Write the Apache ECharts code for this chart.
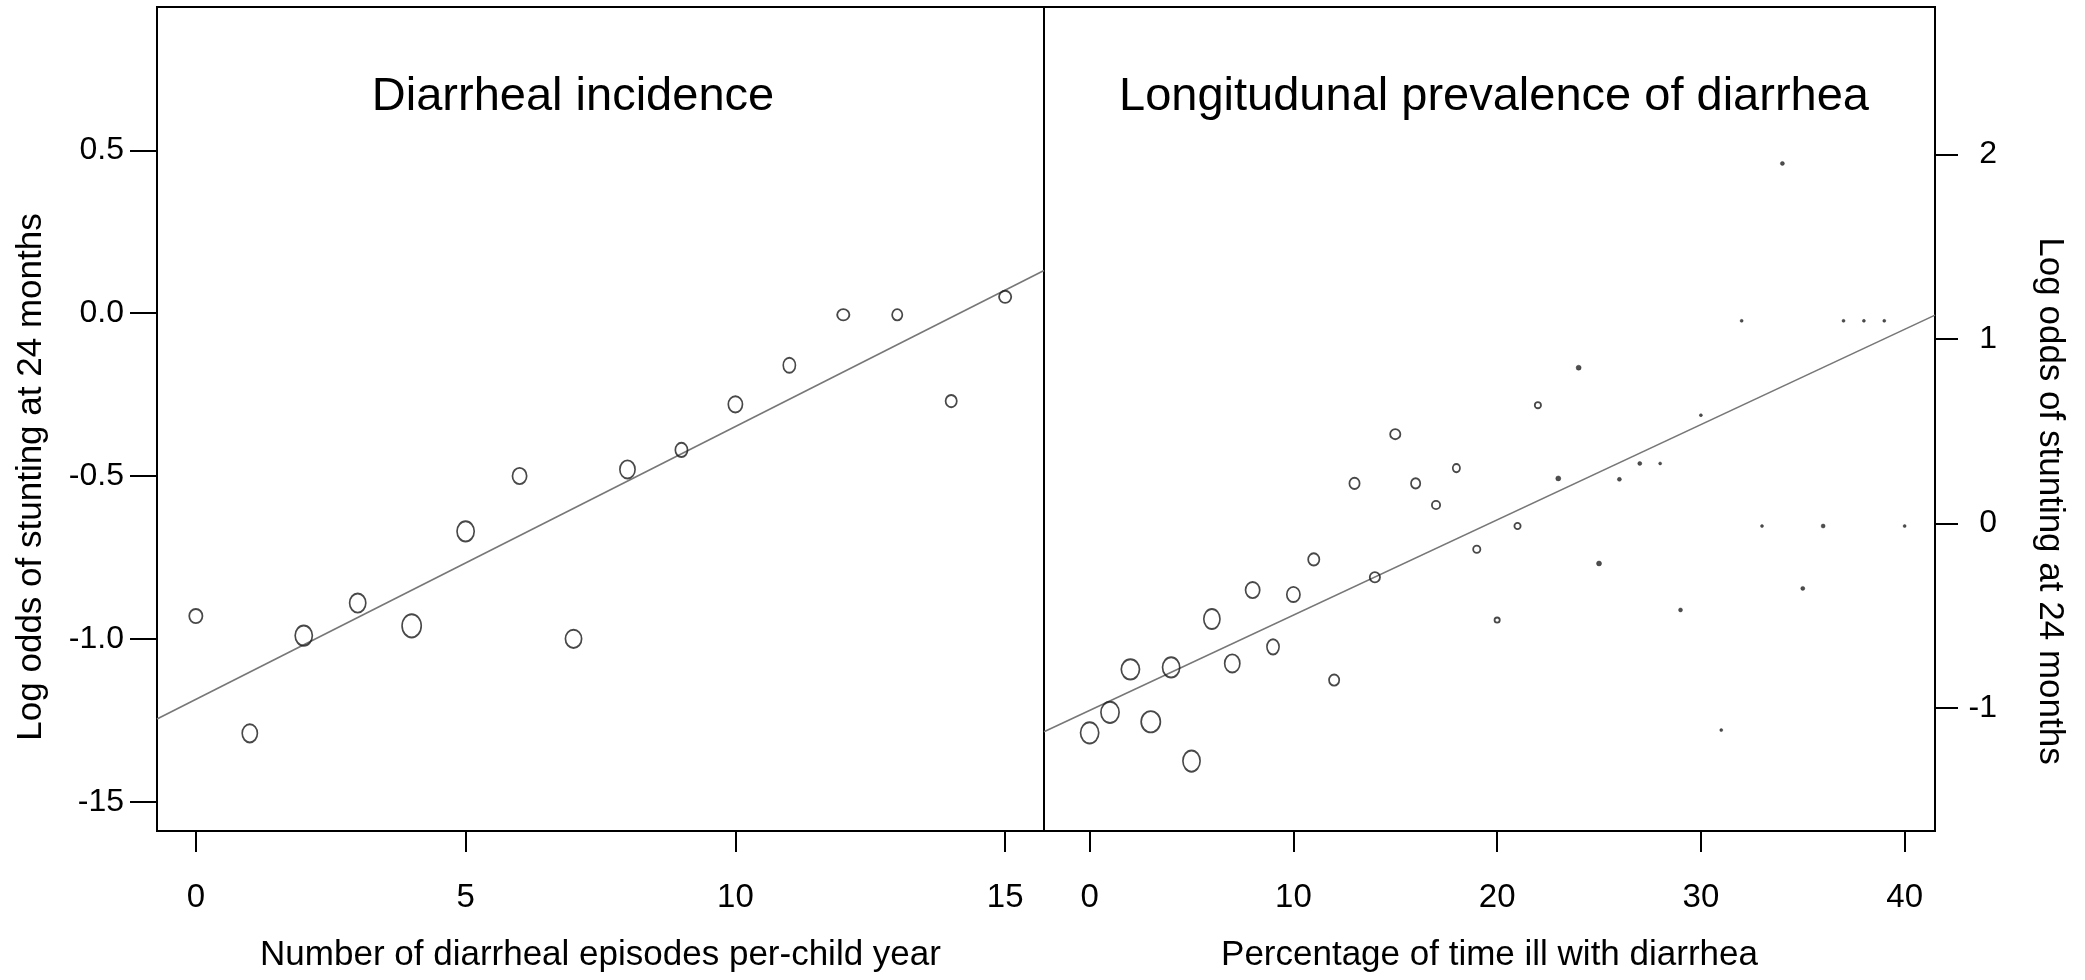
<!DOCTYPE html>
<html>
<head>
<meta charset="utf-8">
<script src="https://cdn.jsdelivr.net/npm/echarts@6/dist/echarts.min.js"></script>
<style>html,body{margin:0;padding:0;background:#fff}#c{width:2085px;height:980px}</style>
</head>
<body>
<div id="c"></div>
<script>
// ---- Left panel: diarrheal incidence ----
const leftX = [0,1,2,3,4,5,6,7,8,9,10,11,12,13,14,15];
const leftY = [-0.93,-1.29,-0.99,-0.89,-0.96,-0.67,-0.50,-1.00,-0.48,-0.42,-0.28,-0.16,-0.005,-0.005,-0.27,0.05];
const leftMarkW = [15,17,19,18,21,19,16,18,17,14,16,14,14,12,13,14];
const leftMarkH = [16,20,22,21,25,22,18,20,20,16,18,17,13,13,14,14];
const leftFit = [[-0.72,-1.246],[15.72,0.131]];
const leftXTicks = [0,5,10,15];
const leftYTicks = [-1.5,-1.0,-0.5,0.0,0.5];
const leftYTickLabels = ['-15','-1.0','-0.5','0.0','0.5'];

// ---- Right panel: longitudinal prevalence ----
const rightX = [0,1,2,3,4,5,6,7,8,9,10,11,12,13,14,15,16,17,18,19,20,21,22,23,24,25,26,27,28,29,30,31,32,33,34,35,36,37,38,39,40];
const rightY = [-1.135,-1.024,-0.791,-1.075,-0.78,-1.288,-0.518,-0.759,-0.361,-0.669,-0.385,-0.195,-0.849,0.217,-0.292,0.484,0.217,0.10,0.30,-0.14,-0.524,-0.014,0.641,0.244,0.844,-0.217,0.239,0.325,0.325,-0.469,0.587,-1.12,1.098,-0.014,1.951,-0.352,-0.014,1.098,1.098,1.098,-0.014];
const rightMarkW = [20,20,20,21,19,19,18,17,16,14,15,13,12,12,12,12,11,10,9,9,7,8,8,6,6,6,5,5,4,5,4,4,4,4,5,5,5,4,4,4,4];
const rightMarkH = [23,23,22,23,22,23,22,20,18,17,17,14,13,13,12,12,12,10,10,9,7,8,8,6,6,6,5,5,4,5,4,4,4,4,5,5,5,4,4,4,4];
const rightFit = [[-2.24,-1.129],[41.49,1.129]];
const rightXTicks = [0,10,20,30,40];
const rightYTicks = [-1,0,1,2];
const rightYTickLabels = ['-1','0','1','2'];

const FONT = "'Liberation Sans', Arial, sans-serif";
const INK = '#000';

function pts(xs, ys, ws, hs) {
  return xs.map((x, i) => {
    const w = ws[i], h = hs[i];
    const small = Math.max(w, h) <= 6;
    return {
      value: [x, ys[i]],
      symbolSize: small ? [w - 1, h - 1] : [w - 1.8, h - 1.8],
      itemStyle: small
        ? {color: '#222', borderColor: '#222', borderWidth: 0.5}
        : {color: 'rgba(0,0,0,0)', borderColor: '#1a1a1a', borderWidth: 1.8}
    };
  });
}

const tickStyle = {color: INK, width: 2};
const labelBase = {color: INK, fontFamily: FONT, fontSize: 32};
const nameStyle = {color: INK, fontFamily: FONT, fontSize: 35};
const noLine = {show: false, onZero: false};

const option = {
  animation: false,
  backgroundColor: '#fff',
  title: [
    {text: 'Diarrheal incidence', left: 568, top: 69, textAlign: 'center',
     textStyle: {fontFamily: FONT, fontSize: 47, fontWeight: 'normal', color: INK}},
    {text: 'Longitudunal prevalence of diarrhea', left: 1489, top: 69, textAlign: 'center',
     textStyle: {fontFamily: FONT, fontSize: 47, fontWeight: 'normal', color: INK}}
  ],
  grid: [
    {left: 157, top: 7, width: 887, height: 824, show: true, borderColor: INK, borderWidth: 2, backgroundColor: 'transparent'},
    {left: 1044, top: 7, width: 891, height: 824, show: true, borderColor: INK, borderWidth: 2, backgroundColor: 'transparent'}
  ],
  xAxis: [
    {gridIndex: 0, type: 'value', min: -0.72, max: 15.72, position: 'bottom',
     axisLine: noLine, splitLine: {show: false},
     axisTick: {show: true, length: 21, lineStyle: tickStyle, customValues: leftXTicks},
     axisLabel: Object.assign({customValues: leftXTicks, margin: 50}, labelBase, {fontSize: 33}),
     name: 'Number of diarrheal episodes per-child year', nameLocation: 'middle', nameGap: 107,
     nameTextStyle: nameStyle},
    {gridIndex: 1, type: 'value', min: -2.24, max: 41.49, position: 'bottom',
     axisLine: noLine, splitLine: {show: false},
     axisTick: {show: true, length: 21, lineStyle: tickStyle, customValues: rightXTicks},
     axisLabel: Object.assign({customValues: rightXTicks, margin: 50}, labelBase, {fontSize: 33}),
     name: 'Percentage of time ill with diarrhea', nameLocation: 'middle', nameGap: 107,
     nameTextStyle: nameStyle}
  ],
  yAxis: [
    {gridIndex: 0, type: 'value', min: -1.59, max: 0.94, position: 'left',
     axisLine: noLine, splitLine: {show: false},
     axisTick: {show: true, length: 27, lineStyle: tickStyle, customValues: leftYTicks},
     axisLabel: Object.assign({customValues: leftYTicks, margin: 33,
       formatter: v => { const i = leftYTicks.findIndex(t => Math.abs(t - v) < 1e-6); return i >= 0 ? leftYTickLabels[i] : ''; }}, labelBase),
     name: 'Log odds of stunting at 24 months', nameLocation: 'middle', nameRotate: 90, nameGap: 108,
     nameTextStyle: Object.assign({}, nameStyle, {padding: [0, 116, 0, 0]})},
    {gridIndex: 1, type: 'value', min: -1.667, max: 2.799, position: 'right',
     axisLine: noLine, splitLine: {show: false},
     axisTick: {show: true, length: 23, lineStyle: tickStyle, customValues: rightYTicks},
     axisLabel: Object.assign({customValues: rightYTicks, margin: 62, align: 'right',
       formatter: v => { const i = rightYTicks.findIndex(t => Math.abs(t - v) < 1e-6); return i >= 0 ? rightYTickLabels[i] : ''; }}, labelBase),
     name: 'Log odds of stunting at 24 months', nameLocation: 'middle', nameRotate: -90, nameGap: 97,
     nameTextStyle: Object.assign({}, nameStyle, {padding: [0, 0, 0, 164]})}
  ],
  series: [
    {type: 'line', xAxisIndex: 0, yAxisIndex: 0, data: leftFit, showSymbol: false, silent: true,
     lineStyle: {color: '#777', width: 1.6}, z: 1},
    {type: 'scatter', xAxisIndex: 0, yAxisIndex: 0, symbol: 'circle', data: pts(leftX, leftY, leftMarkW, leftMarkH), z: 2},
    {type: 'line', xAxisIndex: 1, yAxisIndex: 1, data: rightFit, showSymbol: false, silent: true,
     lineStyle: {color: '#777', width: 1.6}, z: 1},
    {type: 'scatter', xAxisIndex: 1, yAxisIndex: 1, symbol: 'circle', data: pts(rightX, rightY, rightMarkW, rightMarkH), z: 2}
  ]
};

const chart = echarts.init(document.getElementById('c'), null, {renderer: 'canvas'});
chart.setOption(option);
</script>
</body>
</html>
